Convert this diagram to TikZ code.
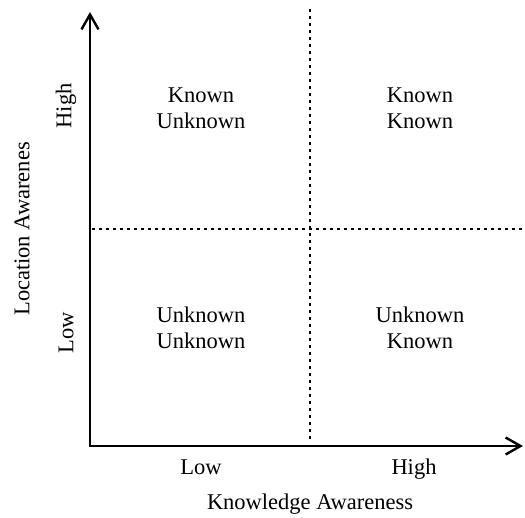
\documentclass[tikz,border=0pt]{standalone}
\usepackage{fontspec}
\setmainfont{Liberation Serif}
\usetikzlibrary{arrows.meta}
\begin{document}
\begin{tikzpicture}[x=1pt,y=-1pt,
  axis/.style={line width=2.4pt,-{Straight Barb[length=15pt,width=17pt,line width=2.4pt]}},
  dotline/.style={line width=2.8pt,dash pattern=on 2.6pt off 4.4pt},
  lbl/.style={font=\fontsize{22.5}{25.5}\selectfont,align=center,inner sep=0pt}]
\useasboundingbox (0,0) rectangle (525,518);
\coordinate (O) at (90,446);
\coordinate (ytip) at (90,12);
\coordinate (xtip) at (523,446);
\coordinate (vtop) at (310,9);
\coordinate (vbot) at (310,440);
\coordinate (hl) at (92,229);
\coordinate (hr) at (523,229);
\draw[dotline] (vtop) -- (vbot);
\draw[dotline] (hl) -- (hr);
\draw[axis] (O) -- (ytip);
\draw[axis] (88.8,446) -- (xtip);
\node[lbl] (ku) at (201,108) {Known\\Unknown};
\node[lbl] (kk) at (420,108) {Known\\Known};
\node[lbl] (uu) at (201,328) {Unknown\\Unknown};
\node[lbl] (uk) at (420,328) {Unknown\\Known};
\node[lbl,anchor=base] (xlow) at (201,474.5) {Low};
\node[lbl,anchor=base] (xhigh) at (414,474.5) {High};
\node[lbl,anchor=base] (xlab) at (310,509.5) {Knowledge Awareness};
\node[lbl,rotate=90] (yhigh) at (66,106) {High};
\node[lbl,rotate=90] (ylow) at (66,333) {Low};
\node[lbl,rotate=90] (ylab) at (22,229) {Location Awarenes};
\end{tikzpicture}
\end{document}
